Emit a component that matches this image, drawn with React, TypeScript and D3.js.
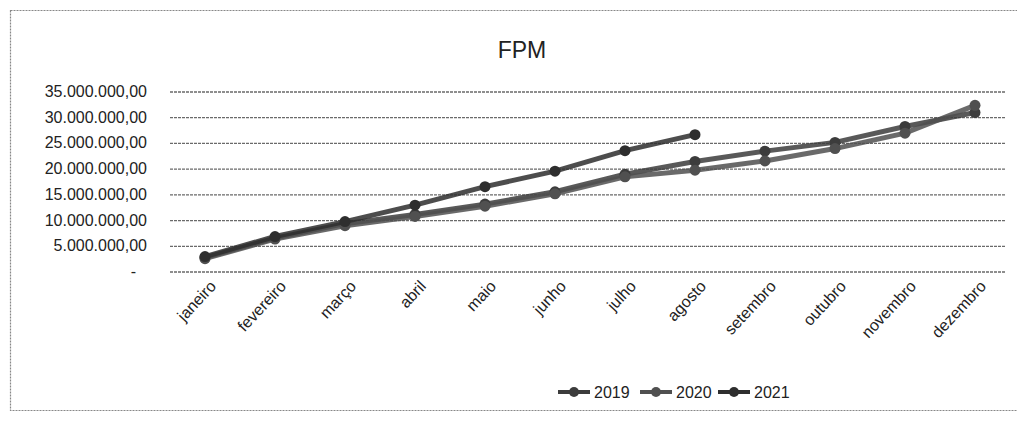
import React from "react";
import * as d3 from "d3";

const months = ["janeiro", "fevereiro", "março", "abril", "maio", "junho", "julho", "agosto", "setembro", "outubro", "novembro", "dezembro"];
const s2019 = [2800000, 6600000, 9400000, 11200000, 13200000, 15600000, 19000000, 21500000, 23500000, 25200000, 28300000, 31000000];
const s2020 = [2600000, 6400000, 9000000, 10800000, 12800000, 15200000, 18500000, 19800000, 21600000, 24000000, 27000000, 32400000];
const s2021 = [3000000, 6900000, 9800000, 13000000, 16600000, 19600000, 23600000, 26700000];
const yTicks = [0, 5000000, 10000000, 15000000, 20000000, 25000000, 30000000, 35000000];
const seriesNames = ["2019", "2020", "2021"];

const W = 1017, H = 423;
const M = { left: 170, right: 1010, top: 92, bottom: 272 };
const FONT = "'Liberation Sans', Arial, sans-serif";

const fmt = (v: number) => {
  if (v === 0) return "-";
  const s = d3.format(",.2f")(v);
  return s.replace(/,/g, "#").replace(/\./g, ",").replace(/#/g, ".");
};

export default function App() {
  const x = d3.scaleBand<string>().domain(months).range([M.left, M.right]);
  const y = d3.scaleLinear().domain([0, 35000000]).range([M.bottom, M.top]);
  const cx = (m: string) => (x(m) as number) + x.bandwidth() / 2;
  const line = d3.line<number>().x((_, i) => cx(months[i])).y((d) => y(d));
  const series = [
    { name: seriesNames[0], data: s2019, color: "#3c3c3c" },
    { name: seriesNames[1], data: s2020, color: "#505050" },
    { name: seriesNames[2], data: s2021, color: "#2e2e2e" },
  ];
  const legendX = [558, 640, 718];
  return (
    <svg width={W} height={H} style={{ position: "absolute", left: 0, top: 0, background: "#fff" }}>
      <rect x={10.5} y={10.5} width={1020} height={400} fill="none" stroke="#888" strokeWidth={1.2} strokeDasharray="2,1" />
      <text x={522} y={58} textAnchor="middle" fontFamily={FONT} fontSize={23} fill="#222">FPM</text>
      {yTicks.map((t) => (
        <g key={t}>
          <line x1={M.left} x2={1005} y1={y(t)} y2={y(t)} stroke="#6a6a6a" strokeWidth={1.3} strokeDasharray="3,1" />
          <text x={t === 0 ? 136 : 147} y={y(t) + 5} textAnchor="end" fontFamily={FONT} fontSize={16} fill="#222">{fmt(t)}</text>
        </g>
      ))}
      {months.map((m) => (
        <text key={m} transform={`translate(${cx(m) + 12},${287}) rotate(-47)`} textAnchor="end" fontFamily={FONT} fontSize={16} fill="#222">{m}</text>
      ))}
      {series.map((s) => (
        <g key={s.name}>
          <path d={line(s.data) as string} fill="none" stroke={s.color} strokeWidth={5} strokeOpacity={0.85} />
          {s.data.map((v, i) => (
            <circle key={i} cx={cx(months[i])} cy={y(v)} r={5.5} fill={s.color} />
          ))}
        </g>
      ))}
      {series.map((s, i) => (
        <g key={s.name}>
          <line x1={legendX[i]} x2={legendX[i] + 32} y1={392} y2={392} stroke={s.color} strokeWidth={4} />
          <circle cx={legendX[i] + 16} cy={392} r={5} fill={s.color} />
          <text x={legendX[i] + 36} y={398} fontFamily={FONT} fontSize={16} fill="#222">{s.name}</text>
        </g>
      ))}
    </svg>
  );
}
